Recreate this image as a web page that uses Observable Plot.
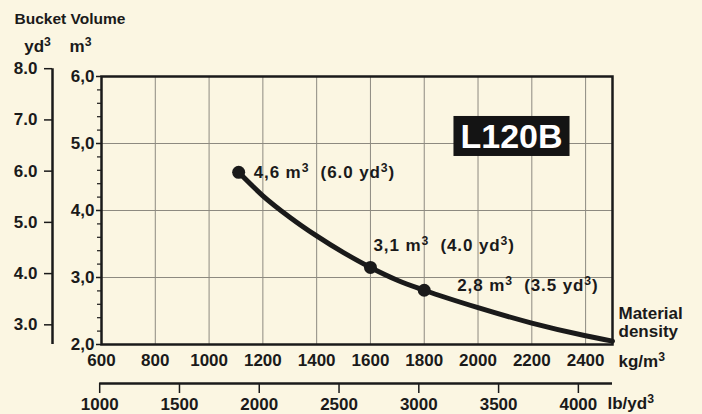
<!DOCTYPE html>
<html>
<head>
<meta charset="utf-8">
<script src="https://cdn.jsdelivr.net/npm/d3@7"></script>
<script src="https://cdn.jsdelivr.net/npm/@observablehq/plot@0.6"></script>
<style>
  html, body { margin: 0; padding: 0; background: #fbf6e2; }
</style>
</head>
<body>
<div id="chart"></div>
<script>
// ---- data ----
const kgTicks = [600, 800, 1000, 1200, 1400, 1600, 1800, 2000, 2200, 2400];
const lbTicks = [1000, 1500, 2000, 2500, 3000, 3500, 4000];
const m3Ticks = [2, 3, 4, 5, 6];
const yd3Ticks = [3, 4, 5, 6, 7, 8];
const curveDensity = [1110, 1200, 1300, 1400, 1500, 1600, 1700, 1800, 2000, 2200, 2400, 2500];
const curveVolume  = [4.57, 4.22, 3.90, 3.62, 3.37, 3.15, 2.96, 2.81, 2.55, 2.32, 2.13, 2.05];
const pointDensity = [1110, 1600, 1800];
const pointVolume  = [4.57, 3.15, 2.81];
const pointLabels  = ["4,6 m³  (6.0 yd³)", "3,1 m³  (4.0 yd³)", "2,8 m³  (3.5 yd³)"];
const modelName = "L120B";

const YD3_TO_M3 = 0.764555;
const LBYD3_TO_KGM3 = 0.593276;

const curve = curveDensity.map((d, i) => ({density: d, volume: curveVolume[i]}));
const points = pointDensity.map((d, i) => ({density: d, volume: pointVolume[i], label: pointLabels[i]}));
const minorM3 = d3.range(20, 61, 2).map(v => v / 10).filter(v => !m3Ticks.includes(v));
const xMax = 2500;

const ink = "#1a1a1a";
const font = "Liberation Sans, Arial, Helvetica, sans-serif";
const tfs = 17;

const txt = (s, o) => Plot.text([s], {lineAnchor: "middle", fontWeight: "bold", fill: ink, fontSize: 17, ...o});

const chart = Plot.plot({
  width: 702,
  height: 414,
  marginLeft: 101,
  marginRight: 90,
  marginTop: 76,
  marginBottom: 70,
  style: {background: "#fbf6e2", fontFamily: font, fontWeight: "bold", fontSize: "16px", color: ink},
  x: {domain: [kgTicks[0], xMax]},
  y: {domain: [m3Ticks[0], m3Ticks[m3Ticks.length - 1]]},
  marks: [
    Plot.gridX(kgTicks.slice(1), {stroke: "#8d8a80", strokeOpacity: 1, strokeWidth: 1}),
    Plot.gridY(m3Ticks.slice(1, -1), {stroke: "#8d8a80", strokeOpacity: 1, strokeWidth: 1}),
    // bottom kg/m3 axis
    Plot.axisX(kgTicks, {anchor: "bottom", tickSize: 0, tickPadding: 9, tickFormat: d3.format("d"), label: null, fontSize: tfs, fontWeight: "bold"}),
    // left m3 axis
    Plot.axisY(m3Ticks, {anchor: "left", tickSize: 5, tickPadding: 2, strokeWidth: 1.5, tickFormat: d => d.toFixed(1).replace(".", ","), label: null, fontSize: tfs, fontWeight: "bold"}),
    Plot.axisY(minorM3, {anchor: "left", tickSize: 4, strokeWidth: 1.2, tickFormat: () => "", label: null}),
    // yd3 axis
    Plot.ruleX([kgTicks[0]], {y1: yd3Ticks[yd3Ticks.length - 1] * YD3_TO_M3, y2: m3Ticks[0], dx: -49, stroke: ink, strokeWidth: 2.5}),
    Plot.axisY(yd3Ticks.map(v => v * YD3_TO_M3), {anchor: "left", dx: -49, tickSize: 8, tickPadding: 7, strokeWidth: 1.5, tickFormat: d => (d / YD3_TO_M3).toFixed(1), label: null, fontSize: tfs, fontWeight: "bold"}),
    // lb/yd3 axis
    Plot.ruleY([m3Ticks[0]], {x1: lbTicks[0] * LBYD3_TO_KGM3, x2: xMax, dy: 39, stroke: ink, strokeWidth: 2.5}),
    Plot.axisX(lbTicks.map(v => v * LBYD3_TO_KGM3), {anchor: "bottom", dy: 39, tickSize: 10, tickPadding: 4, strokeWidth: 1.5, tickFormat: d => String(Math.round(d / LBYD3_TO_KGM3)), label: null, fontSize: tfs, fontWeight: "bold"}),
    Plot.frame({stroke: ink, strokeWidth: 2.5}),
    // curve
    Plot.line(curve, {x: "density", y: "volume", curve: "monotone-x", stroke: ink, strokeWidth: 5}),
    Plot.dot(points, {x: "density", y: "volume", r: 6.5, fill: ink}),
    Plot.text(points.slice(0, 1), {x: "density", y: "volume", text: "label", textAnchor: "start", lineAnchor: "middle", dx: 15, dy: 0, fontSize: 17, fontWeight: "bold", fill: ink}),
    Plot.text(points.slice(1, 2), {x: "density", y: "volume", text: "label", textAnchor: "start", lineAnchor: "middle", dx: 3, dy: -22, fontSize: 17, fontWeight: "bold", fill: ink}),
    Plot.text(points.slice(2, 3), {x: "density", y: "volume", text: "label", textAnchor: "start", lineAnchor: "middle", dx: 33, dy: -5, fontSize: 17, fontWeight: "bold", fill: ink}),
    // titles / unit labels
    txt("Bucket Volume", {frameAnchor: "top-left", textAnchor: "start", dx: -87, dy: -57, fontSize: 15.5}),
    txt("yd³", {frameAnchor: "top-left", textAnchor: "middle", dx: -64, dy: -30}),
    txt("m³", {frameAnchor: "top-left", textAnchor: "middle", dx: -21, dy: -30}),
    txt("Material", {frameAnchor: "bottom-right", textAnchor: "start", dx: 6, dy: -31}),
    txt("density", {frameAnchor: "bottom-right", textAnchor: "start", dx: 6, dy: -13}),
    txt("kg/m³", {frameAnchor: "bottom-right", textAnchor: "start", dx: 6, dy: 17}),
    txt("lb/yd³", {frameAnchor: "bottom-right", textAnchor: "start", dx: -5, dy: 59}),
    txt(modelName, {frameAnchor: "top-right", textAnchor: "middle", dx: -101, dy: 61, fontSize: 34, fill: "#ffffff"})
  ]
});

document.getElementById("chart").appendChild(chart);

const NS = "http://www.w3.org/2000/svg";
chart.querySelectorAll("text").forEach(t => {
  const s = t.textContent;
  const fs = parseFloat(getComputedStyle(t).fontSize);
  // black box behind the model name
  if (s === modelName) {
    const b = t.getBBox();
    const cx = b.x + b.width / 2;
    const cy = b.y + 0.547 * fs;
    const rect = document.createElementNS(NS, "rect");
    rect.setAttribute("x", cx - (b.width + 14) / 2);
    rect.setAttribute("y", cy - 20);
    rect.setAttribute("width", b.width + 14);
    rect.setAttribute("height", 40);
    rect.setAttribute("fill", "#141414");
    const tr = t.getAttribute("transform");
    if (tr) rect.setAttribute("transform", tr);
    t.parentNode.insertBefore(rect, t);
  }
  // superscript 3
  if (s.includes("³") && t.children.length === 0) {
    const parts = s.split("³");
    t.textContent = "";
    const shift = 0.36 * fs;
    parts.forEach((p, i) => {
      const a = document.createElementNS(NS, "tspan");
      a.textContent = p;
      if (i > 0) a.setAttribute("dy", shift);
      t.appendChild(a);
      if (i < parts.length - 1) {
        const sup = document.createElementNS(NS, "tspan");
        sup.textContent = "3";
        sup.setAttribute("font-size", (0.72 * fs) + "px");
        sup.setAttribute("dy", -shift);
        t.appendChild(sup);
      }
    });
    if (s.includes("(")) t.setAttribute("letter-spacing", "0.9px");
  }
});
</script>
</body>
</html>
